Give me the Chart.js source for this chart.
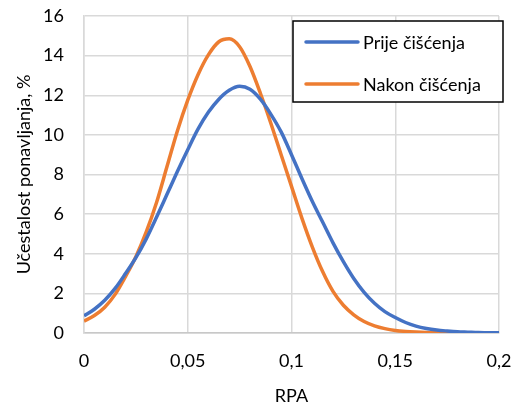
<!DOCTYPE html>
<html>
<head>
<meta charset="utf-8">
<script src="https://cdn.jsdelivr.net/npm/chart.js@4"></script>
<style>
  html, body { margin: 0; padding: 0; background: #fff; }
  #wrap { width: 518px; height: 407px; }
</style>
</head>
<body>
<div id="wrap"><canvas id="c" width="518" height="407"></canvas></div>
<script>
// RPA values (x) shared by both curves
const rpa = [0, 0.005, 0.01, 0.015, 0.02, 0.025, 0.03, 0.035, 0.04, 0.045,
  0.05, 0.055, 0.06, 0.065, 0.07, 0.075, 0.08, 0.085, 0.09, 0.095,
  0.1, 0.105, 0.11, 0.115, 0.12, 0.125, 0.13, 0.135, 0.14, 0.145,
  0.15, 0.155, 0.16, 0.165, 0.17, 0.175, 0.18, 0.185, 0.19, 0.195, 0.2];

// Učestalost ponavljanja, %
const prije = [0.87, 1.2, 1.65, 2.25, 3.0, 3.8, 4.75, 5.85, 7.0, 8.15,
  9.25, 10.3, 11.15, 11.8, 12.25, 12.45, 12.3, 11.8, 11.05, 10.15,
  9.0, 7.8, 6.65, 5.6, 4.55, 3.6, 2.75, 2.05, 1.5, 1.08,
  0.78, 0.53, 0.35, 0.23, 0.15, 0.1, 0.06, 0.04, 0.02, 0.01, 0.01];

const nakon = [0.6, 0.88, 1.3, 1.95, 2.85, 3.85, 5.1, 6.6, 8.4, 10.2,
  11.75, 13.05, 14.05, 14.7, 14.85, 14.45, 13.45, 12.1, 10.6, 9.0,
  7.4, 5.8, 4.35, 3.1, 2.1, 1.4, 0.92, 0.58, 0.36, 0.22,
  0.13, 0.08, 0.05, 0.03, 0.02, 0.01, 0, 0, 0, 0, 0];

const seriesNames = ['Prije čišćenja', 'Nakon čišćenja'];
const seriesColors = ['#4472C4', '#ED7D31'];
const xTickLabels = ['0', '0,05', '0,1', '0,15', '0,2'];
const yTitle = 'Učestalost ponavljanja, %';
const xTitle = 'RPA';

const FONT = 'Lato, "Open Sans", sans-serif';

const toPoints = (ys) => ys.map((y, i) => ({ x: rpa[i], y }));

// Bordered legend box in the upper right, drawn over the grid.
const boxLegend = {
    id: 'boxLegend',
    afterDraw(chart) {
        const ctx = chart.ctx;
        const x = 293, y = 21, w = 210, h = 81;
        ctx.save();
        ctx.fillStyle = '#fff';
        ctx.fillRect(x, y, w, h);
        ctx.strokeStyle = '#000';
        ctx.lineWidth = 1.5;
        ctx.strokeRect(x, y, w, h);
        ctx.font = '18px ' + FONT;
        ctx.textBaseline = 'middle';
        chart.data.datasets.forEach((ds, i) => {
            const ly = y + 21 + i * 42;
            ctx.strokeStyle = ds.borderColor;
            ctx.lineWidth = 3.5;
            ctx.lineCap = 'round';
            ctx.beginPath();
            ctx.moveTo(306, ly);
            ctx.lineTo(358, ly);
            ctx.stroke();
            ctx.fillStyle = '#000';
            ctx.fillText(ds.label, 363, ly + 1);
        });
        ctx.restore();
    },
};

// Invisible tick marks give the label gap without the extra edge padding
// that ticks.padding would add around the chart area.
const gridOpts = (len) => ({
    color: '#d9d9d9',
    lineWidth: 1.5,
    drawTicks: true,
    tickLength: len,
    tickColor: 'rgba(0,0,0,0)',
});

new Chart(document.getElementById('c'), {
    type: 'line',
    data: {
        datasets: [prije, nakon].map((ys, i) => ({
            label: seriesNames[i],
            data: toPoints(ys),
            borderColor: seriesColors[i],
            backgroundColor: seriesColors[i],
            borderWidth: 3.5,
            pointRadius: 0,
            cubicInterpolationMode: 'monotone',
        })),
    },
    options: {
        responsive: false,
        animation: false,
        layout: { padding: { left: 0, right: 19, top: 16, bottom: 0 } },
        plugins: { legend: { display: false }, tooltip: { enabled: false } },
        scales: {
            x: {
                type: 'linear',
                min: 0,
                max: 0.2,
                afterBuildTicks: (s) => { s.ticks = xTickLabels.map((_, i) => ({ value: i * 0.05 })); },
                afterFit: (s) => { s.height = 74; },
                ticks: {
                    callback: (v, i) => xTickLabels[i],
                    color: '#000',
                    font: { family: FONT, size: 18 },
                    padding: 0,
                    maxRotation: 0,
                },
                grid: gridOpts(17),
                border: { color: '#c8c8c8', width: 1.5 },
                title: {
                    display: true,
                    text: xTitle,
                    color: '#000',
                    font: { family: FONT, size: 18 },
                    padding: { top: 10, bottom: 0 },
                },
            },
            y: {
                min: 0,
                max: 16,
                ticks: {
                    stepSize: 2,
                    color: '#000',
                    font: { family: FONT, size: 18 },
                    padding: 0,
                },
                afterFit: (s) => { s.width = 84; },
                grid: gridOpts(20),
                border: { color: '#d9d9d9', width: 1.5 },
                title: {
                    display: true,
                    text: yTitle,
                    color: '#000',
                    font: { family: FONT, size: 18 },
                    padding: { top: 13, bottom: 4 },
                },
            },
        },
    },
    plugins: [boxLegend],
});
</script>
</body>
</html>
